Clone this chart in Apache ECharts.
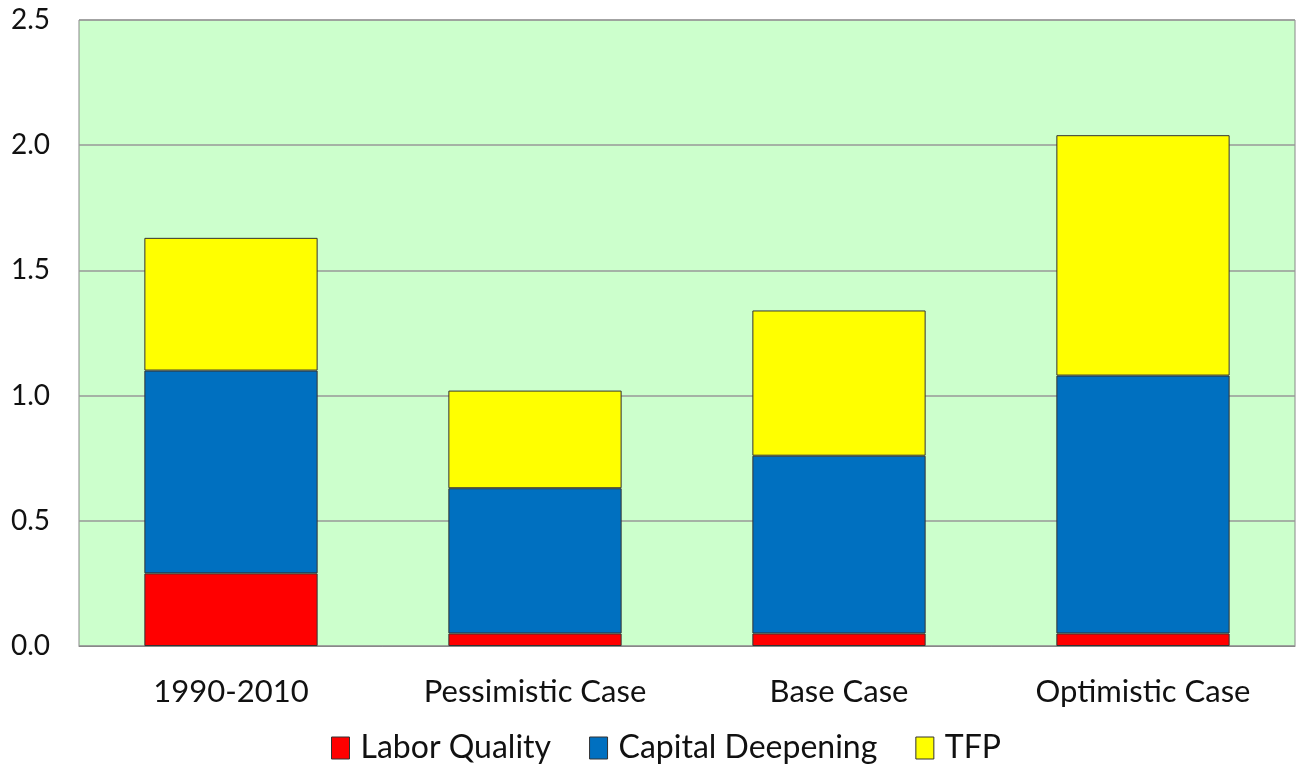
<!DOCTYPE html>
<html>
<head>
<meta charset="utf-8">
<script src="https://cdn.jsdelivr.net/npm/echarts@6/dist/echarts.min.js"></script>
<style>
  html, body { margin: 0; padding: 0; background: #fff; }
  #chart { width: 1297px; height: 771px; }
</style>
</head>
<body>
<div id="chart"></div>
<script>
// categories and stacked contributions
const categories = ['1990-2010', 'Pessimistic Case', 'Base Case', 'Optimistic Case']
const laborQuality = [0.29, 0.05, 0.05, 0.05]
const capitalDeepening = [0.81, 0.58, 0.71, 1.03]
const tfp = [0.53, 0.39, 0.58, 0.96]
const seriesNames = ['Labor Quality', 'Capital Deepening', 'TFP']
const seriesColors = ['#ff0000', '#0070c0', '#ffff00']

const font = 'Lato, "Open Sans", sans-serif'

function barSeries(name, data, color) {
  return {
    name,
    type: 'bar',
    stack: 'total',
    data,
    barCategoryGap: '43%',
    itemStyle: {
      color,
      borderColor: '#333',
      borderWidth: 1,
    },
  }
}

const chart = echarts.init(document.getElementById('chart'))
chart.setOption({
  animation: false,
  textStyle: { fontFamily: font },
  grid: {
    left: 79,
    right: 2,
    top: 20,
    bottom: 125,
    show: true,
    backgroundColor: '#ccffcc',
    borderColor: '#888',
    borderWidth: 1,
  },
  legend: {
    bottom: 2,
    left: 326,
    itemWidth: 18,
    itemHeight: 22,
    itemGap: 38,
    icon: 'rect',
    textStyle: { fontSize: 32, color: '#111', fontFamily: font, padding: [0, 0, 0, 6] },
    itemStyle: { borderColor: '#333', borderWidth: 1 },
    data: seriesNames,
  },
  xAxis: {
    type: 'category',
    data: categories,
    axisLine: { show: true, lineStyle: { color: '#888' } },
    axisTick: { show: false },
    axisLabel: { fontSize: 31, color: '#111', margin: 30, fontFamily: font },
  },
  yAxis: {
    type: 'value',
    min: 0,
    max: 2.5,
    interval: 0.5,
    axisLine: { show: false },
    axisTick: { show: false },
    splitLine: { lineStyle: { color: '#999', width: 1.5 } },
    axisLabel: {
      fontSize: 28,
      color: '#111',
      margin: 29,
      fontFamily: font,
      formatter: (v) => v.toFixed(1),
    },
  },
  series: [
    barSeries(seriesNames[0], laborQuality, seriesColors[0]),
    barSeries(seriesNames[1], capitalDeepening, seriesColors[1]),
    barSeries(seriesNames[2], tfp, seriesColors[2]),
  ],
})
</script>
</body>
</html>
